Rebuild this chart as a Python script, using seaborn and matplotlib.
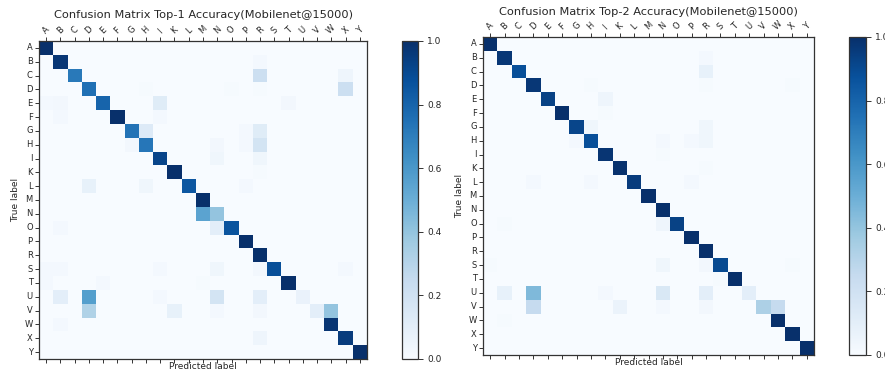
import numpy as np
import pandas as pd
import matplotlib
matplotlib.use("Agg")
import matplotlib.pyplot as plt
import seaborn as sns

labels = ["A", "B", "C", "D", "E", "F", "G", "H", "I", "K", "L", "M",
          "N", "O", "P", "R", "S", "T", "U", "V", "W", "X", "Y"]

# Top-1 matrix: diagonal values and off-diagonal (true, predicted, value)
diag_top1 = [1.0, 0.97, 0.72, 0.75, 0.80, 1.0, 0.74, 0.73, 0.92, 1.0, 0.85, 1.0,
             0.40, 0.86, 1.0, 1.0, 0.88, 1.0, 0.07, 0.10, 0.98, 0.95, 1.0]
off_top1 = [
    ("B", "R", 0.02),
    ("C", "R", 0.22), ("C", "X", 0.05),
    ("D", "H", 0.01), ("D", "O", 0.01), ("D", "R", 0.01), ("D", "X", 0.22),
    ("E", "A", 0.02), ("E", "B", 0.03), ("E", "I", 0.12), ("E", "T", 0.03),
    ("F", "B", 0.02), ("F", "I", 0.02),
    ("G", "H", 0.13), ("G", "P", 0.02), ("G", "R", 0.12),
    ("H", "G", 0.03), ("H", "N", 0.03), ("H", "P", 0.02), ("H", "R", 0.18),
    ("I", "N", 0.04), ("I", "R", 0.04),
    ("K", "R", 0.01),
    ("L", "D", 0.08), ("L", "H", 0.04), ("L", "P", 0.02),
    ("N", "M", 0.55),
    ("O", "B", 0.02), ("O", "N", 0.10),
    ("S", "A", 0.02), ("S", "B", 0.02), ("S", "I", 0.02), ("S", "N", 0.04),
    ("S", "R", 0.03), ("S", "X", 0.02),
    ("T", "A", 0.02), ("T", "E", 0.02), ("T", "M", 0.01),
    ("U", "B", 0.10), ("U", "D", 0.57), ("U", "I", 0.02), ("U", "N", 0.18),
    ("U", "R", 0.10),
    ("V", "D", 0.32), ("V", "K", 0.08), ("V", "N", 0.02), ("V", "R", 0.03),
    ("V", "W", 0.40),
    ("W", "B", 0.02),
    ("X", "R", 0.05),
]

# Top-2 matrix
diag_top2 = [1.0, 0.97, 0.88, 0.97, 0.93, 1.0, 0.92, 0.88, 0.98, 0.99, 0.95, 1.0,
             1.0, 0.93, 1.0, 1.0, 0.90, 1.0, 0.10, 0.33, 1.0, 1.0, 1.0]
off_top2 = [
    ("B", "R", 0.02),
    ("C", "R", 0.08),
    ("D", "H", 0.01), ("D", "R", 0.01), ("D", "X", 0.01),
    ("E", "I", 0.05),
    ("F", "I", 0.01),
    ("G", "H", 0.04), ("G", "R", 0.04),
    ("H", "G", 0.02), ("H", "N", 0.02), ("H", "P", 0.02), ("H", "R", 0.04),
    ("I", "N", 0.01),
    ("K", "R", 0.01),
    ("L", "D", 0.02), ("L", "H", 0.02), ("L", "P", 0.02),
    ("O", "B", 0.01), ("O", "N", 0.05),
    ("S", "A", 0.01), ("S", "N", 0.04), ("S", "R", 0.03), ("S", "X", 0.01),
    ("T", "S", 0.01),
    ("U", "B", 0.08), ("U", "D", 0.45), ("U", "I", 0.02), ("U", "N", 0.15),
    ("U", "R", 0.10),
    ("V", "D", 0.25), ("V", "K", 0.06), ("V", "N", 0.02), ("V", "R", 0.03),
    ("V", "W", 0.25),
    ("W", "B", 0.01),
]

titles = ["Confusion Matrix Top-1 Accuracy(Mobilenet@15000)",
          "Confusion Matrix Top-2 Accuracy(Mobilenet@15000)"]


def build(diag, off):
    df = pd.DataFrame(np.zeros((len(labels), len(labels))), index=labels, columns=labels)
    for i, lab in enumerate(labels):
        df.loc[lab, lab] = diag[i]
    for t, p, v in off:
        df.loc[t, p] = v
    return df


sns.set_style("white")
plt.rcParams["font.family"] = ["DejaVu Sans"]

W, H = 885, 370
fig = plt.figure(figsize=(W / 100, H / 100), dpi=100)


def frac(x0, y0, x1, y1):
    return [x0 / W, (H - y1) / H, (x1 - x0) / W, (y1 - y0) / H]


panels = [
    (frac(39, 41, 367, 359), frac(402, 41, 418, 359), diag_top1, off_top1, titles[0], 15.5),
    (frac(483, 37, 814, 355), frac(849, 37, 866, 355), diag_top2, off_top2, titles[1], 12.0),
]

for axpos, cpos, diag, off, title, ty in panels:
    ax = fig.add_axes(axpos)
    cax = fig.add_axes(cpos)
    df = build(diag, off)
    sns.heatmap(df, ax=ax, cbar_ax=cax, cmap="Blues", vmin=0, vmax=1,
                xticklabels=labels, yticklabels=labels)
    for s in ax.spines.values():
        s.set_visible(True)
        s.set_color("#333333")
        s.set_linewidth(0.9)
    ax.tick_params(axis="x", top=True, labeltop=True, bottom=True, labelbottom=False,
                   length=3, width=0.7, labelsize=6, pad=1, color="#333333")
    ax.tick_params(axis="y", left=True, length=3, width=0.7, labelsize=6, pad=1.5,
                   color="#333333")
    for t in ax.get_xticklabels():
        t.set_rotation(45)
        t.set_ha("center")
    for t in ax.get_yticklabels():
        t.set_rotation(0)
    ax.xaxis.set_label_position("bottom")
    ax.set_xlabel("Predicted label", fontsize=6.5, labelpad=-0.5)
    ax.set_ylabel("True label", fontsize=6.5, labelpad=3)
    fig.text((axpos[0] + axpos[2] / 2), 1 - ty / H, title, ha="center", va="center",
             fontsize=8.2)
    cb = ax.collections[0].colorbar
    cb.outline.set_visible(True)
    cb.outline.set_linewidth(0.9)
    cb.outline.set_edgecolor("#333333")
    cb.set_ticks([0.0, 0.2, 0.4, 0.6, 0.8, 1.0])
    cax.tick_params(labelsize=6.5, length=3.5, width=0.7, pad=3, color="#333333")

fig.savefig("out.png", dpi=100)
